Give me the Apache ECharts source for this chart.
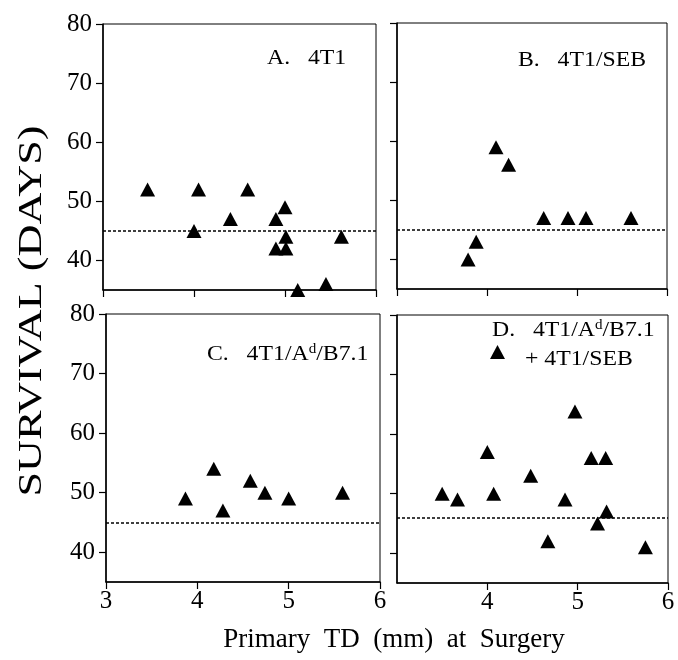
<!DOCTYPE html>
<html>
<head>
<meta charset="utf-8">
<script src="https://cdn.jsdelivr.net/npm/echarts@6/dist/echarts.min.js"></script>
<style>
html,body{margin:0;padding:0;background:#fff;}
#chart{width:678px;height:660px;}
</style>
</head>
<body>
<div id="chart"></div>
<script>
// ---- data ----
const xTicks = [3, 4, 5, 6];
const yTicks = [40, 50, 60, 70, 80];
const panelNames = ['A', 'B', 'C', 'D'];

const aX = [3.49, 4.05, 4.59, 4.00, 4.40, 4.90, 5.00, 5.01, 4.90, 5.01, 5.14, 5.45, 5.62];
const aY = [52, 52, 52, 45, 47, 47, 49, 44, 42, 42, 35, 36, 44];

const bX = [3.79, 3.88, 4.10, 4.24, 4.63, 4.90, 5.10, 5.60];
const bY = [40, 43, 59, 56, 47, 47, 47, 47];

const cX = [3.87, 4.18, 4.28, 4.58, 4.74, 5.00, 5.59];
const cY = [49, 54, 47, 52, 50, 49, 50];

const dX = [3.50, 3.67, 4.00, 4.07, 4.48, 4.86, 4.97, 5.15, 5.31, 5.32, 5.22, 4.67, 5.75];
const dY = [50, 49, 57, 50, 53, 49, 63.8, 56, 56, 47, 45, 42, 41];

const refLines = [45, 45, 45, 46];

// ---- layout ----
const FONT = '"Liberation Serif", "Times New Roman", serif';
const grids = [
  {left: 103, top: 24, width: 273, height: 266},
  {left: 397, top: 23, width: 270, height: 266},
  {left: 106, top: 314, width: 274, height: 268},
  {left: 397, top: 315, width: 271, height: 268}
];
const showXLabels = [false, false, true, true];
const showYLabels = [true, false, true, false];
const allX = [aX, bX, cX, dX];
const allY = [aY, bY, cY, dY];

const chart = echarts.init(document.getElementById('chart'), null, {renderer: 'canvas'});

const option = {
  backgroundColor: '#fff',
  animation: false,
  grid: grids.map(g => Object.assign({show: true, borderColor: '#000', borderWidth: 1, backgroundColor: 'transparent'}, g)),
  xAxis: grids.map((g, i) => ({
    type: 'value', gridIndex: i, min: xTicks[0], max: xTicks[xTicks.length - 1], interval: 1,
    axisLine: {show: true, onZero: false, lineStyle: {color: '#000', width: 1.5}},
    axisTick: {show: true, inside: false, length: 7, lineStyle: {color: '#000', width: 1.2}},
    splitLine: {show: false},
    axisLabel: {
      show: showXLabels[i], color: '#000', fontFamily: FONT, fontSize: 25, margin: 7,
      showMinLabel: i === 2, showMaxLabel: true
    }
  })),
  yAxis: grids.map((g, i) => ({
    type: 'value', gridIndex: i, min: 35, max: 80,
    axisLine: {show: true, onZero: false, lineStyle: {color: '#000', width: 1.5}},
    axisTick: {show: true, inside: false, length: 7, customValues: yTicks, lineStyle: {color: '#000', width: 1.2}},
    splitLine: {show: false},
    axisLabel: {
      show: showYLabels[i], customValues: yTicks, color: '#000', fontFamily: FONT, fontSize: 25, margin: 11
    }
  })),
  legend: {
    show: true, data: [{name: 'D', icon: 'triangle', itemStyle: {color: '#000', opacity: 1}}], selectedMode: false,
    left: 490, top: 345, padding: 0, itemWidth: 15, itemHeight: 14, itemGap: 0,
    formatter: () => '', textStyle: {fontSize: 1}
  },
  series: panelNames.map((name, i) => ({
    name: name, type: 'scatter', xAxisIndex: i, yAxisIndex: i,
    symbol: 'triangle', symbolSize: [15, 14], clip: false,
    itemStyle: {color: '#000', opacity: 1},
    emphasis: {disabled: true},
    data: allX[i].map((x, k) => [x, allY[i][k]]),
    markLine: {
      silent: true, symbol: 'none', label: {show: false},
      lineStyle: {color: '#000', type: [3, 2], width: 1.5, opacity: 1},
      data: [{yAxis: refLines[i]}]
    }
  })),
  graphic: [
    {type: 'text', x: 267, y: 58, scaleX: 1.08, style: {text: 'A.   4T1', font: '22px ' + FONT, fill: '#000', align: 'left', verticalAlign: 'middle'}},
    {type: 'text', x: 518, y: 60, scaleX: 1.08, style: {text: 'B.   4T1/SEB', font: '22px ' + FONT, fill: '#000', align: 'left', verticalAlign: 'middle'}},
    {type: 'text', x: 207, y: 354, scaleX: 1.08, style: {
      text: 'C.   4T1/A{sup|d}/B7.1', fill: '#000', align: 'left', verticalAlign: 'middle',
      fontFamily: FONT, fontSize: 22, lineHeight: 24,
      rich: {sup: {fontFamily: FONT, fontSize: 14, lineHeight: 14, verticalAlign: 'top', fill: '#000'}}
    }},
    {type: 'text', x: 492, y: 330, scaleX: 1.08, style: {
      text: 'D.   4T1/A{sup|d}/B7.1', fill: '#000', align: 'left', verticalAlign: 'middle',
      fontFamily: FONT, fontSize: 22, lineHeight: 24,
      rich: {sup: {fontFamily: FONT, fontSize: 14, lineHeight: 14, verticalAlign: 'top', fill: '#000'}}
    }},
    {type: 'text', x: 525, y: 359, scaleX: 1.08, style: {text: '+ 4T1/SEB', font: '22px ' + FONT, fill: '#000', align: 'left', verticalAlign: 'middle'}},
    {type: 'text', x: 32, y: 311, rotation: Math.PI / 2, scaleX: 1.3, style: {text: 'SURVIVAL (DAYS)', font: '34px ' + FONT, fill: '#000', align: 'center', verticalAlign: 'middle'}},
    {type: 'text', x: 394, y: 640, style: {text: 'Primary  TD  (mm)  at  Surgery', font: '27px ' + FONT, fill: '#000', align: 'center', verticalAlign: 'middle'}}
  ]
};
chart.setOption(option);
</script>
</body>
</html>
